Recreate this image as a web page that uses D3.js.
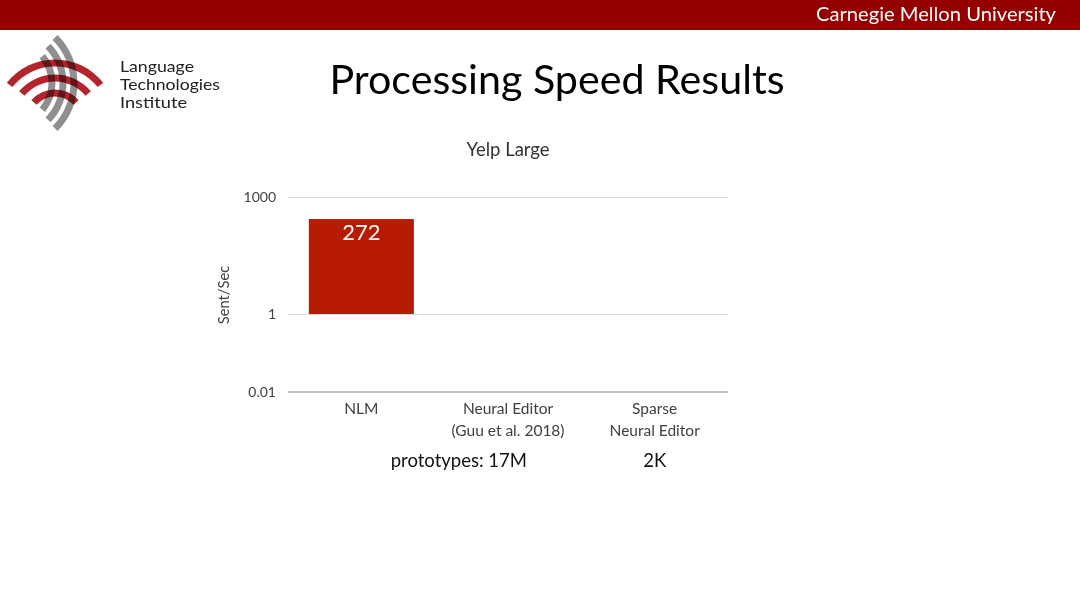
<!DOCTYPE html>
<html>
<head>
<meta charset="utf-8">
<script src="https://cdn.jsdelivr.net/npm/d3@7"></script>
<style>
  html, body { margin: 0; padding: 0; background: #fff; }
  svg { display: block; }
</style>
</head>
<body>
<svg id="chart" width="1080" height="607"></svg>
<script>
// ---- data ----
const categories = ["NLM", "Neural Editor|(Guu et al. 2018)", "Sparse|Neural Editor"];
const values = [272, null, null];
const valueLabels = ["272", "", ""];
const yTicks = [0.01, 1, 1000];
const yTickLabels = ["0.01", "1", "1000"];
const chartTitle = "Yelp Large";
const yAxisTitle = "Sent/Sec";
const prototypeNotes = [
  { category: categories[1], text: "prototypes: 17M" },
  { category: categories[2], text: "2K" }
];
const slideTitle = "Processing Speed Results";
const headerText = "Carnegie Mellon University";
const logoLines = ["Language", "Technologies", "Institute"];

// ---- render ----
const svg = d3.select("#chart");
const font = "Lato, 'Open Sans', sans-serif";

// header bar
svg.append("rect").attr("x", 0).attr("y", 0).attr("width", 1080).attr("height", 30).attr("fill", "#940000");
svg.append("text").attr("x", 1056).attr("y", 21).attr("text-anchor", "end")
  .attr("font-family", font).attr("font-size", 19).attr("fill", "#fff")
  .attr("textLength", 240).attr("lengthAdjust", "spacingAndGlyphs")
  .text(headerText);

// logo
const logo = svg.append("g");
const arc = d3.arc();
const redRadii = [58, 43, 28];
const redSpan = [0.9, 0.88, 0.85];
redRadii.forEach((r, i) => {
  logo.append("path")
    .attr("transform", "translate(55,121)")
    .attr("d", arc({innerRadius: r - 3.5, outerRadius: r + 3.5, startAngle: -redSpan[i], endAngle: redSpan[i]}))
    .attr("fill", "#b3242c");
});
const grayG = logo.append("g").style("mix-blend-mode", "multiply");
const grayRadii = [64, 53, 42];
const graySpan = [[0.78, 2.36], [0.8, 2.34], [0.88, 2.26]];
grayRadii.forEach((r, i) => {
  grayG.append("path")
    .attr("transform", "translate(10,83)")
    .attr("d", arc({innerRadius: r - 3.5, outerRadius: r + 3.5, startAngle: graySpan[i][0], endAngle: graySpan[i][1]}))
    .attr("fill", "#8f8f8f");
});
logoLines.forEach((t, i) => {
  svg.append("text").attr("x", 120).attr("y", 72 + i * 18)
    .attr("font-family", font).attr("font-size", 16).attr("fill", "#222")
    .attr("textLength", [74, 100, 67][i]).attr("lengthAdjust", "spacingAndGlyphs")
    .text(t);
});

// slide title
svg.append("text").attr("x", 557).attr("y", 94).attr("text-anchor", "middle")
  .attr("font-family", font).attr("font-size", 40).attr("fill", "#000")
  .attr("textLength", 455).attr("lengthAdjust", "spacingAndGlyphs")
  .text(slideTitle);

// chart
const x = d3.scaleBand().domain(categories).range([288, 728])
  .paddingInner(0.284).paddingOuter(0.142);
const y = d3.scaleLog().domain([0.01, 1000]).range([392, 197]);

svg.append("text").attr("x", 508).attr("y", 156).attr("text-anchor", "middle")
  .attr("font-family", font).attr("font-size", 18.5).attr("fill", "#333")
  .text(chartTitle);

// gridlines + y axis
const yAxis = d3.axisLeft(y).tickValues(yTicks)
  .tickFormat((d, i) => yTickLabels[i]).tickSize(-440).tickPadding(12);
const gy = svg.append("g").attr("transform", "translate(288,0)").call(yAxis);
gy.select(".domain").remove();
gy.selectAll(".tick line").attr("stroke", "#d9d9d9").attr("stroke-width", 1);
gy.selectAll(".tick text").attr("font-family", font).attr("font-size", 14).attr("fill", "#444");

// bottom axis line
svg.append("line").attr("x1", 288).attr("x2", 728).attr("y1", y(0.01)).attr("y2", y(0.01))
  .attr("stroke", "#bfbfbf").attr("stroke-width", 2);

// bars
const barData = categories.map((c, i) => ({c, v: values[i], label: valueLabels[i]})).filter(d => d.v != null);
svg.selectAll("rect.bar").data(barData).enter().append("rect").attr("class", "bar")
  .attr("x", d => x(d.c)).attr("width", x.bandwidth())
  .attr("y", d => y(d.v)).attr("height", d => y(1) - y(d.v))
  .attr("fill", "#b81b03");
svg.selectAll("text.vlabel").data(barData).enter().append("text").attr("class", "vlabel")
  .attr("x", d => x(d.c) + x.bandwidth() / 2).attr("y", d => y(d.v) + 21)
  .attr("text-anchor", "middle").attr("font-family", font).attr("font-size", 22).attr("fill", "#fff")
  .text(d => d.label);

// category labels
const gx = svg.append("g");
categories.forEach(c => {
  const parts = c.split("|");
  const t = gx.append("text").attr("x", x(c) + x.bandwidth() / 2).attr("y", 414)
    .attr("text-anchor", "middle").attr("font-family", font).attr("font-size", 15.5).attr("fill", "#404040");
  parts.forEach((p, j) => {
    t.append("tspan").attr("x", x(c) + x.bandwidth() / 2).attr("dy", j === 0 ? 0 : 22).text(p);
  });
});

// y axis title
svg.append("text").attr("transform", "translate(229,295) rotate(-90)")
  .attr("text-anchor", "middle").attr("font-family", font).attr("font-size", 14.7).attr("fill", "#404040")
  .text(yAxisTitle);

// prototype notes
svg.append("text").attr("x", x(prototypeNotes[0].category) + x.bandwidth() / 2 + 19).attr("y", 467)
  .attr("text-anchor", "end").attr("font-family", font).attr("font-size", 18.5).attr("fill", "#111")
  .text(prototypeNotes[0].text);
svg.append("text").attr("x", x(prototypeNotes[1].category) + x.bandwidth() / 2).attr("y", 467)
  .attr("text-anchor", "middle").attr("font-family", font).attr("font-size", 18.5).attr("fill", "#111")
  .text(prototypeNotes[1].text);
</script>
</body>
</html>
